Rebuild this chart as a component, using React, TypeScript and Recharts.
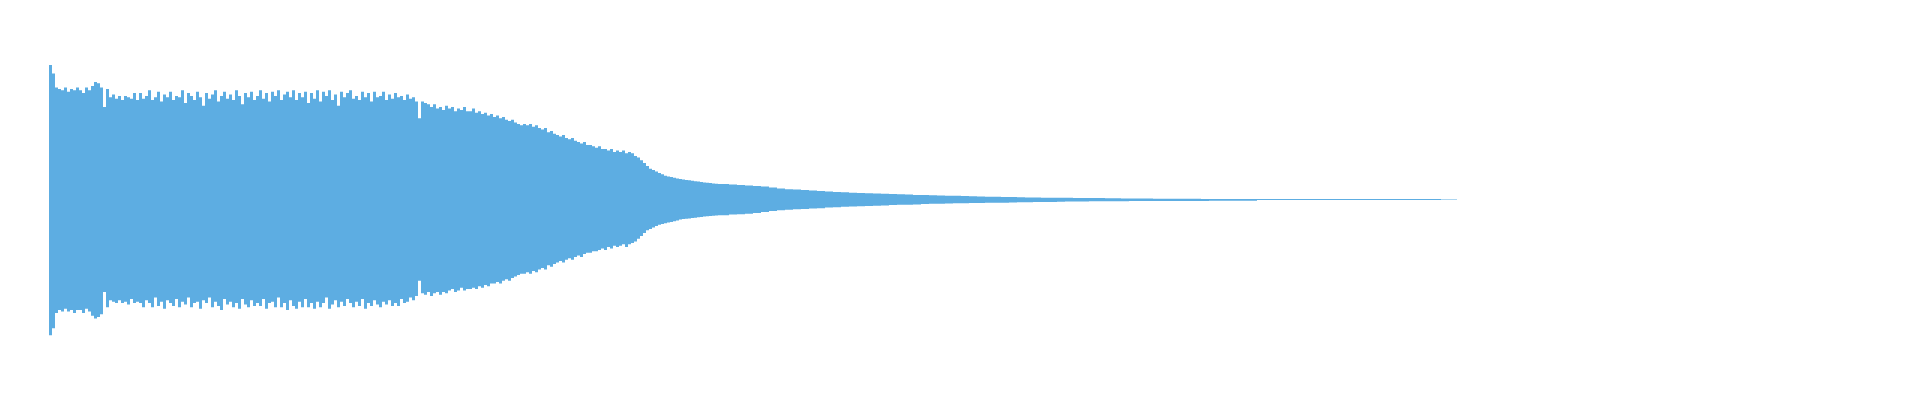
import React from 'react';
import { AreaChart, Area, XAxis, YAxis } from 'recharts';

// waveform envelope, amplitude normalised to [-1, 1]
// head: one peak pair every 3 ms, tail: every 8 ms (starts at 672 ms)
const HEAD_STEP = 3;
const TAIL_START = 672;
const TAIL_STEP = 8;

const headHigh = [
  0.96, 0.90, 0.80, 0.79, 0.78, 0.80, 0.77, 0.79, 0.78, 0.80,
  0.78, 0.76, 0.80, 0.78, 0.81, 0.84, 0.83, 0.80, 0.66, 0.79,
  0.73, 0.75, 0.72, 0.74, 0.71, 0.74, 0.73, 0.72, 0.76, 0.71,
  0.76, 0.72, 0.74, 0.78, 0.71, 0.73, 0.77, 0.70, 0.75, 0.73,
  0.77, 0.71, 0.74, 0.73, 0.78, 0.69, 0.76, 0.74, 0.71, 0.77,
  0.73, 0.67, 0.76, 0.72, 0.75, 0.78, 0.70, 0.74, 0.77, 0.72,
  0.75, 0.71, 0.78, 0.74, 0.68, 0.76, 0.73, 0.77, 0.71, 0.74,
  0.78, 0.72, 0.76, 0.70, 0.77, 0.74, 0.78, 0.71, 0.75, 0.77,
  0.73, 0.78, 0.71, 0.76, 0.73, 0.77, 0.69, 0.76, 0.72, 0.78,
  0.70, 0.77, 0.74, 0.78, 0.71, 0.75, 0.67, 0.77, 0.73, 0.76,
  0.78, 0.72, 0.74, 0.71, 0.77, 0.73, 0.76, 0.70, 0.77, 0.73,
  0.74, 0.77, 0.71, 0.75, 0.72, 0.76, 0.73, 0.74, 0.71, 0.75,
  0.72, 0.73, 0.70, 0.58, 0.70, 0.69, 0.68, 0.66, 0.68, 0.65,
  0.66, 0.64, 0.67, 0.65, 0.66, 0.63, 0.65, 0.64, 0.66, 0.63,
  0.63, 0.65, 0.62, 0.63, 0.61, 0.62, 0.60, 0.61, 0.59, 0.60,
  0.58, 0.59, 0.57, 0.56, 0.57, 0.55, 0.54, 0.53, 0.54, 0.53,
  0.54, 0.52, 0.53, 0.51, 0.50, 0.51, 0.48, 0.49, 0.47, 0.46,
  0.45, 0.46, 0.44, 0.43, 0.44, 0.42, 0.41, 0.40, 0.41, 0.39,
  0.39, 0.38, 0.37, 0.38, 0.36, 0.36, 0.35, 0.36, 0.34, 0.35,
  0.34, 0.35, 0.33, 0.34, 0.33, 0.31, 0.30, 0.28, 0.26, 0.24,
  0.22, 0.21, 0.20, 0.19, 0.18, 0.17, 0.165, 0.16, 0.155, 0.15,
  0.146, 0.143, 0.14, 0.137, 0.134, 0.13, 0.128, 0.125, 0.122, 0.12, 0.118, 0.115, 0.113, 0.11,
];

// depth below zero (stored positive)
const headLow = [
  0.97, 0.92, 0.81, 0.79, 0.80, 0.78, 0.80, 0.79, 0.81, 0.79,
  0.79, 0.81, 0.78, 0.80, 0.83, 0.85, 0.84, 0.82, 0.66, 0.77,
  0.72, 0.73, 0.74, 0.72, 0.74, 0.73, 0.75, 0.71, 0.74, 0.73,
  0.74, 0.77, 0.72, 0.74, 0.77, 0.70, 0.76, 0.73, 0.78, 0.72,
  0.74, 0.76, 0.71, 0.77, 0.73, 0.75, 0.70, 0.77, 0.74, 0.73,
  0.78, 0.72, 0.74, 0.70, 0.77, 0.73, 0.76, 0.79, 0.71, 0.75,
  0.73, 0.77, 0.74, 0.78, 0.71, 0.75, 0.77, 0.72, 0.76, 0.74,
  0.76, 0.71, 0.78, 0.74, 0.73, 0.77, 0.70, 0.77, 0.74, 0.79,
  0.72, 0.76, 0.78, 0.73, 0.77, 0.71, 0.77, 0.74, 0.78, 0.73,
  0.77, 0.74, 0.70, 0.78, 0.75, 0.72, 0.77, 0.73, 0.76, 0.71,
  0.74, 0.77, 0.73, 0.76, 0.71, 0.78, 0.74, 0.76, 0.72, 0.75,
  0.77, 0.73, 0.75, 0.72, 0.76, 0.74, 0.76, 0.71, 0.74, 0.73,
  0.70, 0.72, 0.69, 0.58, 0.67, 0.68, 0.66, 0.69, 0.67, 0.66,
  0.68, 0.66, 0.67, 0.65, 0.64, 0.66, 0.65, 0.63, 0.65, 0.64,
  0.64, 0.63, 0.64, 0.62, 0.63, 0.61, 0.62, 0.60, 0.60, 0.59,
  0.60, 0.58, 0.57, 0.58, 0.56, 0.55, 0.54, 0.53, 0.53, 0.52,
  0.53, 0.51, 0.52, 0.50, 0.49, 0.50, 0.47, 0.48, 0.46, 0.45,
  0.44, 0.45, 0.43, 0.42, 0.43, 0.41, 0.40, 0.41, 0.39, 0.38,
  0.38, 0.37, 0.37, 0.36, 0.35, 0.36, 0.34, 0.35, 0.33, 0.34,
  0.33, 0.32, 0.34, 0.32, 0.31, 0.30, 0.28, 0.26, 0.24, 0.22,
  0.21, 0.20, 0.19, 0.18, 0.175, 0.17, 0.165, 0.16, 0.155, 0.15,
  0.142, 0.140, 0.137, 0.135, 0.132, 0.130, 0.127, 0.125, 0.122, 0.120, 0.118, 0.116, 0.114, 0.112,
];

const tailHigh = [
  0.110, 0.107, 0.104, 0.100, 0.097, 0.092, 0.085, 0.078, 0.074, 0.071,
  0.068, 0.064, 0.060, 0.057, 0.054, 0.051, 0.049, 0.047, 0.045, 0.043,
  0.041, 0.039, 0.037, 0.035, 0.033, 0.032, 0.030, 0.029, 0.027, 0.026,
  0.025, 0.023, 0.022, 0.020, 0.019, 0.018, 0.017, 0.016, 0.015, 0.014,
  0.013, 0.013, 0.012, 0.012, 0.011, 0.011, 0.011, 0.010, 0.009, 0.009,
  0.008, 0.008, 0.007, 0.007, 0.006, 0.006, 0.006, 0.005, 0.005, 0.005,
  0.0036, 0.0036, 0.0036, 0.0036, 0.0036, 0.0036, 0.0036, 0.0036, 0.0036, 0.0036,
  0.0036, 0.0036, 0.0036, 0.0036, 0.0036, 0.0036, 0.0036, 0.0036, 0.0036, 0.0036,
  0.0036, 0.0036, 0.0036, 0.0036, 0.0036, 0.0036, 0.0036, 0.0036, 0.0036, 0.0036,
  0.0025, 0.0025, 0.0025,
];

const tailLow = [
  0.112, 0.108, 0.105, 0.101, 0.097, 0.090, 0.083, 0.077, 0.073, 0.070,
  0.068, 0.065, 0.062, 0.058, 0.055, 0.052, 0.050, 0.048, 0.046, 0.044,
  0.042, 0.040, 0.038, 0.037, 0.035, 0.033, 0.031, 0.030, 0.029, 0.027,
  0.026, 0.025, 0.025, 0.024, 0.023, 0.023, 0.021, 0.020, 0.019, 0.018,
  0.018, 0.017, 0.016, 0.015, 0.014, 0.014, 0.013, 0.013, 0.012, 0.012,
  0.012, 0.011, 0.011, 0.011, 0.011, 0.011, 0.010, 0.010, 0.010, 0.010,
  0.010, 0.009, 0.009, 0.009, 0.009, 0.009, 0.009,
  0.0036, 0.0036, 0.0036, 0.0036, 0.0036, 0.0036, 0.0036, 0.0036, 0.0036, 0.0036,
  0.0036, 0.0036, 0.0036, 0.0036, 0.0036, 0.0036, 0.0036, 0.0036, 0.0036, 0.0036,
  0.0036, 0.0036, 0.0036,
  0.0025, 0.0025, 0.0025,
];

const buildData = () => {
  const rows = [];
  headHigh.forEach((v, i) => {
    rows.push({ t: i * HEAD_STEP, peak: [-headLow[i], v] });
  });
  tailHigh.forEach((v, i) => {
    rows.push({ t: TAIL_START + i * TAIL_STEP, peak: [-tailLow[i], v] });
  });
  return rows;
};

const data = buildData();
const lastT = data[data.length - 1].t;

const App: React.FC = () => {
  return (
    <div style={{ position: 'absolute', left: 0, top: 0, width: 1920, height: 400, background: '#fff' }}>
      <AreaChart
        width={1920}
        height={400}
        data={data}
        margin={{ top: 59.5, right: 1920 - 49 - lastT, bottom: 60.5, left: 49 }}
      >
        <XAxis type="number" dataKey="t" domain={[0, lastT]} hide />
        <YAxis type="number" domain={[-1, 1]} hide />
        <Area
          type="stepAfter"
          dataKey="peak"
          stroke="none"
          fill="#5DADE2"
          fillOpacity={1}
          dot={false}
          activeDot={false}
          isAnimationActive={false}
        />
      </AreaChart>
    </div>
  );
};

export default App;
